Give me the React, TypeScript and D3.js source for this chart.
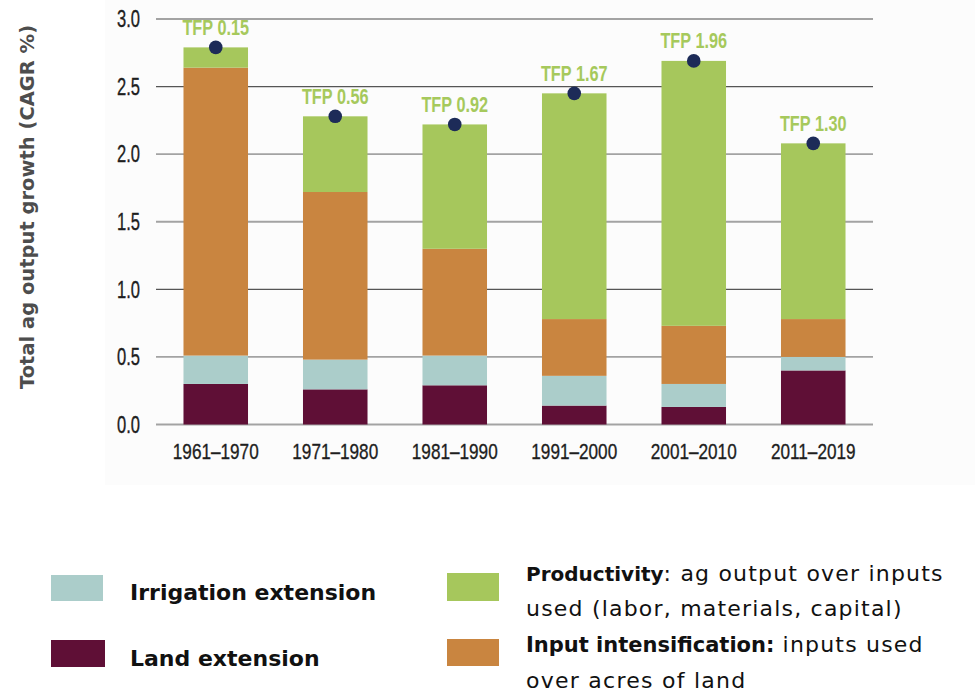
import React from "react";
import * as d3 from "d3";

const categories = ["1961–1970", "1971–1980", "1981–1990", "1991–2000", "2001–2010", "2011–2019"];
const landExtension = [0.30, 0.26, 0.29, 0.14, 0.13, 0.40];
const irrigationExtension = [0.21, 0.22, 0.22, 0.22, 0.17, 0.10];
const inputIntensification = [2.13, 1.24, 0.79, 0.42, 0.43, 0.28];
const productivity = [0.15, 0.56, 0.92, 1.67, 1.96, 1.30];
const yTicks = [0, 0.5, 1.0, 1.5, 2.0, 2.5, 3.0];
const darkTicks = [1.0, 2.5];

const seriesKeys = ["land", "irrigation", "input", "productivity"];
const seriesColors: Record<string, string> = {
  land: "#5f0f36",
  irrigation: "#abcdca",
  input: "#c98540",
  productivity: "#a6c75c",
};

const W = 975;
const H = 694;
const plotLeft = 156;
const plotRight = 873;
const plotTop = 19;
const plotBottom = 424.5;

const sansFam = "'Liberation Sans', Arial, sans-serif";
const gothic = "'DejaVu Sans', 'Noto Sans', sans-serif";

function NarrowText(props: {
  x: number;
  y: number;
  anchor: string;
  size: number;
  fill: string;
  bold?: boolean;
  sx?: number;
  dy?: string;
  stroke?: string;
  children: React.ReactNode;
}) {
  const sx = props.sx ?? 0.8;
  return (
    <text
      transform={`translate(${props.x},${props.y}) scale(${sx},1)`}
      textAnchor={props.anchor}
      dy={props.dy}
      fontFamily={sansFam}
      fontWeight={props.bold ? "bold" : "normal"}
      fontSize={props.size}
      fill={props.fill}
      stroke={props.stroke}
      strokeWidth={props.stroke ? 0.35 : undefined}
    >
      {props.children}
    </text>
  );
}

export default function App() {
  const rows = categories.map((c, i) => ({
    category: c,
    land: landExtension[i],
    irrigation: irrigationExtension[i],
    input: inputIntensification[i],
    productivity: productivity[i],
  }));
  const stack = d3.stack<any>().keys(seriesKeys)(rows);

  const x = d3
    .scaleBand<string>()
    .domain(categories)
    .range([plotLeft, plotRight])
    .paddingInner(0.46)
    .paddingOuter(0.23);
  const y = d3.scaleLinear().domain([0, 3]).range([plotBottom, plotTop]);
  const fmt = d3.format(".2f");
  const tickFmt = d3.format(".1f");

  const totals = rows.map((r) => r.land + r.irrigation + r.input + r.productivity);

  return (
    <svg
      width={W}
      height={H}
      viewBox={`0 0 ${W} ${H}`}
      style={{ position: "absolute", left: 0, top: 0, background: "#ffffff" }}
    >
      <rect x={105} y={0} width={870} height={485} fill="#fcfcfc" />
      {/* gridlines */}
      {yTicks.map((t) => (
        <line
          key={t}
          x1={plotLeft}
          x2={plotRight}
          y1={y(t)}
          y2={y(t)}
          stroke={darkTicks.includes(t) ? "#555555" : "#a3a3a3"}
          strokeWidth={darkTicks.includes(t) ? 1.2 : 1.8}
        />
      ))}
      {/* tick labels */}
      {yTicks.map((t) => (
        <NarrowText
          key={"l" + t}
          x={140}
          y={y(t)}
          dy="0.36em"
          anchor="end"
          size={23}
          sx={0.72}
          fill="#1e1e1e"
          stroke="#1e1e1e"
        >
          {tickFmt(t)}
        </NarrowText>
      ))}
      {/* bars */}
      {stack.map((s) => (
        <g key={s.key} fill={seriesColors[s.key]}>
          {s.map((d, i) => (
            <rect
              key={i}
              x={x(categories[i])}
              width={x.bandwidth()}
              y={y(d[1])}
              height={y(d[0]) - y(d[1])}
            />
          ))}
        </g>
      ))}
      {/* x labels */}
      {categories.map((c) => (
        <NarrowText
          key={c}
          x={(x(c) as number) + x.bandwidth() / 2}
          y={459}
          anchor="middle"
          size={22}
          sx={0.78}
          fill="#1e1e1e"
          stroke="#1e1e1e"
        >
          {c}
        </NarrowText>
      ))}
      {/* TFP dots and labels */}
      {categories.map((c, i) => {
        const cx = (x(c) as number) + x.bandwidth() / 2;
        const cy = y(totals[i]);
        return (
          <g key={"tfp" + c}>
            <circle cx={cx} cy={cy} r={6.8} fill="#1d2b58" />
            <NarrowText x={cx} y={cy - 12.5} anchor="middle" size={22} sx={0.74} bold fill="#a6c95c">
              {"TFP " + fmt(productivity[i])}
            </NarrowText>
          </g>
        );
      })}
      {/* y-axis title */}
      <text
        transform={`translate(34, 207) rotate(-90)`}
        textAnchor="middle"
        fontFamily={gothic}
        fontWeight="bold"
        fontSize={19.5}
        fill="#4d4d4d"
      >
        Total ag output growth (CAGR %)
      </text>
      {/* legend */}
      <rect x={51} y={575} width={52} height={26} fill={seriesColors.irrigation} />
      <rect x={51} y={640} width={54} height={27} fill={seriesColors.land} />
      <text x={130} y={600} fontFamily={gothic} fontWeight="bold" fontSize={22} fill="#111">
        Irrigation extension
      </text>
      <text x={130} y={666} fontFamily={gothic} fontWeight="bold" fontSize={22} fill="#111">
        Land extension
      </text>
      <rect x={447} y={573} width={52} height={28} fill={seriesColors.productivity} />
      <rect x={447} y={639} width={52} height={27} fill={seriesColors.input} />
      <text fontFamily={gothic} fontSize={22} fill="#111">
        <tspan x={526} y={581}>
          <tspan fontWeight="bold" fontSize={20}>Productivity</tspan>
          <tspan letterSpacing={1.2}>: ag output over inputs</tspan>
        </tspan>
        <tspan x={526} y={616} letterSpacing={1.2}>
          used (labor, materials, capital)
        </tspan>
      </text>
      <text fontFamily={gothic} fontSize={22} fill="#111">
        <tspan x={526} y={652}>
          <tspan fontWeight="bold" fontSize={21}>Input intensification:</tspan>
          <tspan letterSpacing={1.2}> inputs used</tspan>
        </tspan>
        <tspan x={526} y={688} letterSpacing={1.25}>
          over acres of land
        </tspan>
      </text>
    </svg>
  );
}
